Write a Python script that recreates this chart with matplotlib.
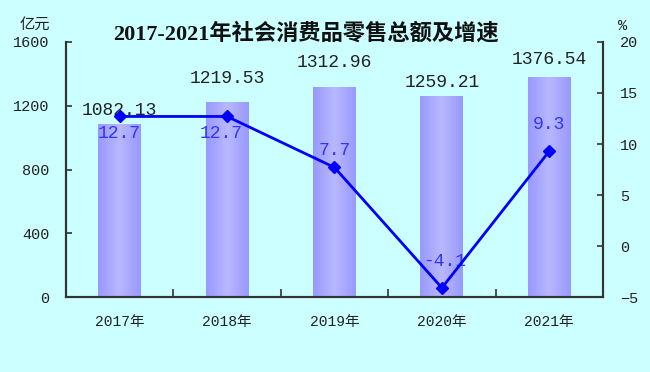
import numpy as np
import matplotlib
matplotlib.use('Agg')
import matplotlib.pyplot as plt
from matplotlib.colors import LinearSegmentedColormap

# data
years = ['2017年', '2018年', '2019年', '2020年', '2021年']
sales = [1082.13, 1219.53, 1312.96, 1259.21, 1376.54]
growth = [12.7, 12.7, 7.7, -4.1, 9.3]
left_ticks = [0, 400, 800, 1200, 1600]
right_ticks = [-5, 0, 5, 10, 15, 20]

# label offsets (points)
sales_off = [(0, 4), (0, 11), (0, 12), (0, 4), (0, 7)]
growth_off = [(0, -12), (-4, -12), (0, 12), (2, 19), (0, 19)]

bg = '#ccffff'
mono = ['Liberation Mono', 'Noto Sans CJK SC']
cjk = ['Noto Sans CJK SC', 'DejaVu Sans']

fig = plt.figure(figsize=(6.5, 3.72), dpi=100, facecolor=bg)
ax1 = fig.add_axes([0.1015, 0.2016, 0.8262, 0.6855])
ax1.set_facecolor(bg)
ax2 = ax1.twinx()

x = np.arange(len(years))
bars = ax1.bar(x, sales, width=0.4, color='#a8a8ff', zorder=1)

# horizontal gradient fill for each bar
cmap = LinearSegmentedColormap.from_list('barg', ['#9999ff', '#b8b8ff', '#9999ff'])
grad = np.linspace(0, 1, 64).reshape(1, -1)
for b in bars:
    ax1.imshow(grad, cmap=cmap, aspect='auto', zorder=2,
               extent=(b.get_x(), b.get_x() + b.get_width(), 0, b.get_height()))

for xi, v, off in zip(x, sales, sales_off):
    ax1.annotate('%.2f' % v, (xi, v), xytext=off, textcoords='offset points',
                 ha='center', va='bottom', fontsize=13, family=mono, color='#222222')

ax1.set_xlim(-0.5, len(years) - 0.5)
ax1.set_ylim(0, 1600)
ax1.set_yticks(left_ticks)
ax1.set_xticks(x)
ax1.set_xticklabels(years, family=mono, fontsize=10.5)
ax1.set_xticks(x[:-1] + 0.5, minor=True)
ax1.tick_params(axis='x', which='major', length=0, pad=13, colors='#222222')
ax1.tick_params(axis='x', which='minor', direction='in', length=6, width=1.2, color='#333333')
ax1.tick_params(axis='y', direction='in', length=4, width=1.2, pad=12, labelsize=11,
                color='#333333', labelcolor='#222222')
for lab in ax1.get_yticklabels():
    lab.set_family(mono)

ax2.plot(x, growth, color='#0000ff', lw=2, marker='D', markersize=6, zorder=5)
for xi, v, off in zip(x, growth, growth_off):
    ax2.annotate('%.1f' % v, (xi, v), xytext=off, textcoords='offset points',
                 ha='center', va='center', fontsize=13, family=mono, color='#3333ff')
ax2.set_ylim(-5, 20)
ax2.set_yticks(right_ticks)
ax2.tick_params(axis='y', direction='in', length=4, width=1.2, pad=12, labelsize=11,
                color='#333333', labelcolor='#222222')
for lab in ax2.get_yticklabels():
    lab.set_family(mono)

for a in (ax1, ax2):
    a.spines['top'].set_visible(False)
    for s in ('left', 'right', 'bottom'):
        a.spines[s].set_linewidth(1.5)
        a.spines[s].set_color('#333333')

fig.text(0.054, 0.935, '亿元', family=cjk, fontsize=11, ha='center', va='center', color='#222222')
fig.text(0.958, 0.93, '%', family=mono, fontsize=11, ha='center', va='center', color='#222222')
fig.text(0.471, 0.91, '2017-2021年社会消费品零售总额及增速', family=['Liberation Serif', 'Noto Sans CJK SC'],
         fontsize=16, fontweight='bold', ha='center', va='center', color='#111111')

fig.savefig('out.png', dpi=100, facecolor=bg)
